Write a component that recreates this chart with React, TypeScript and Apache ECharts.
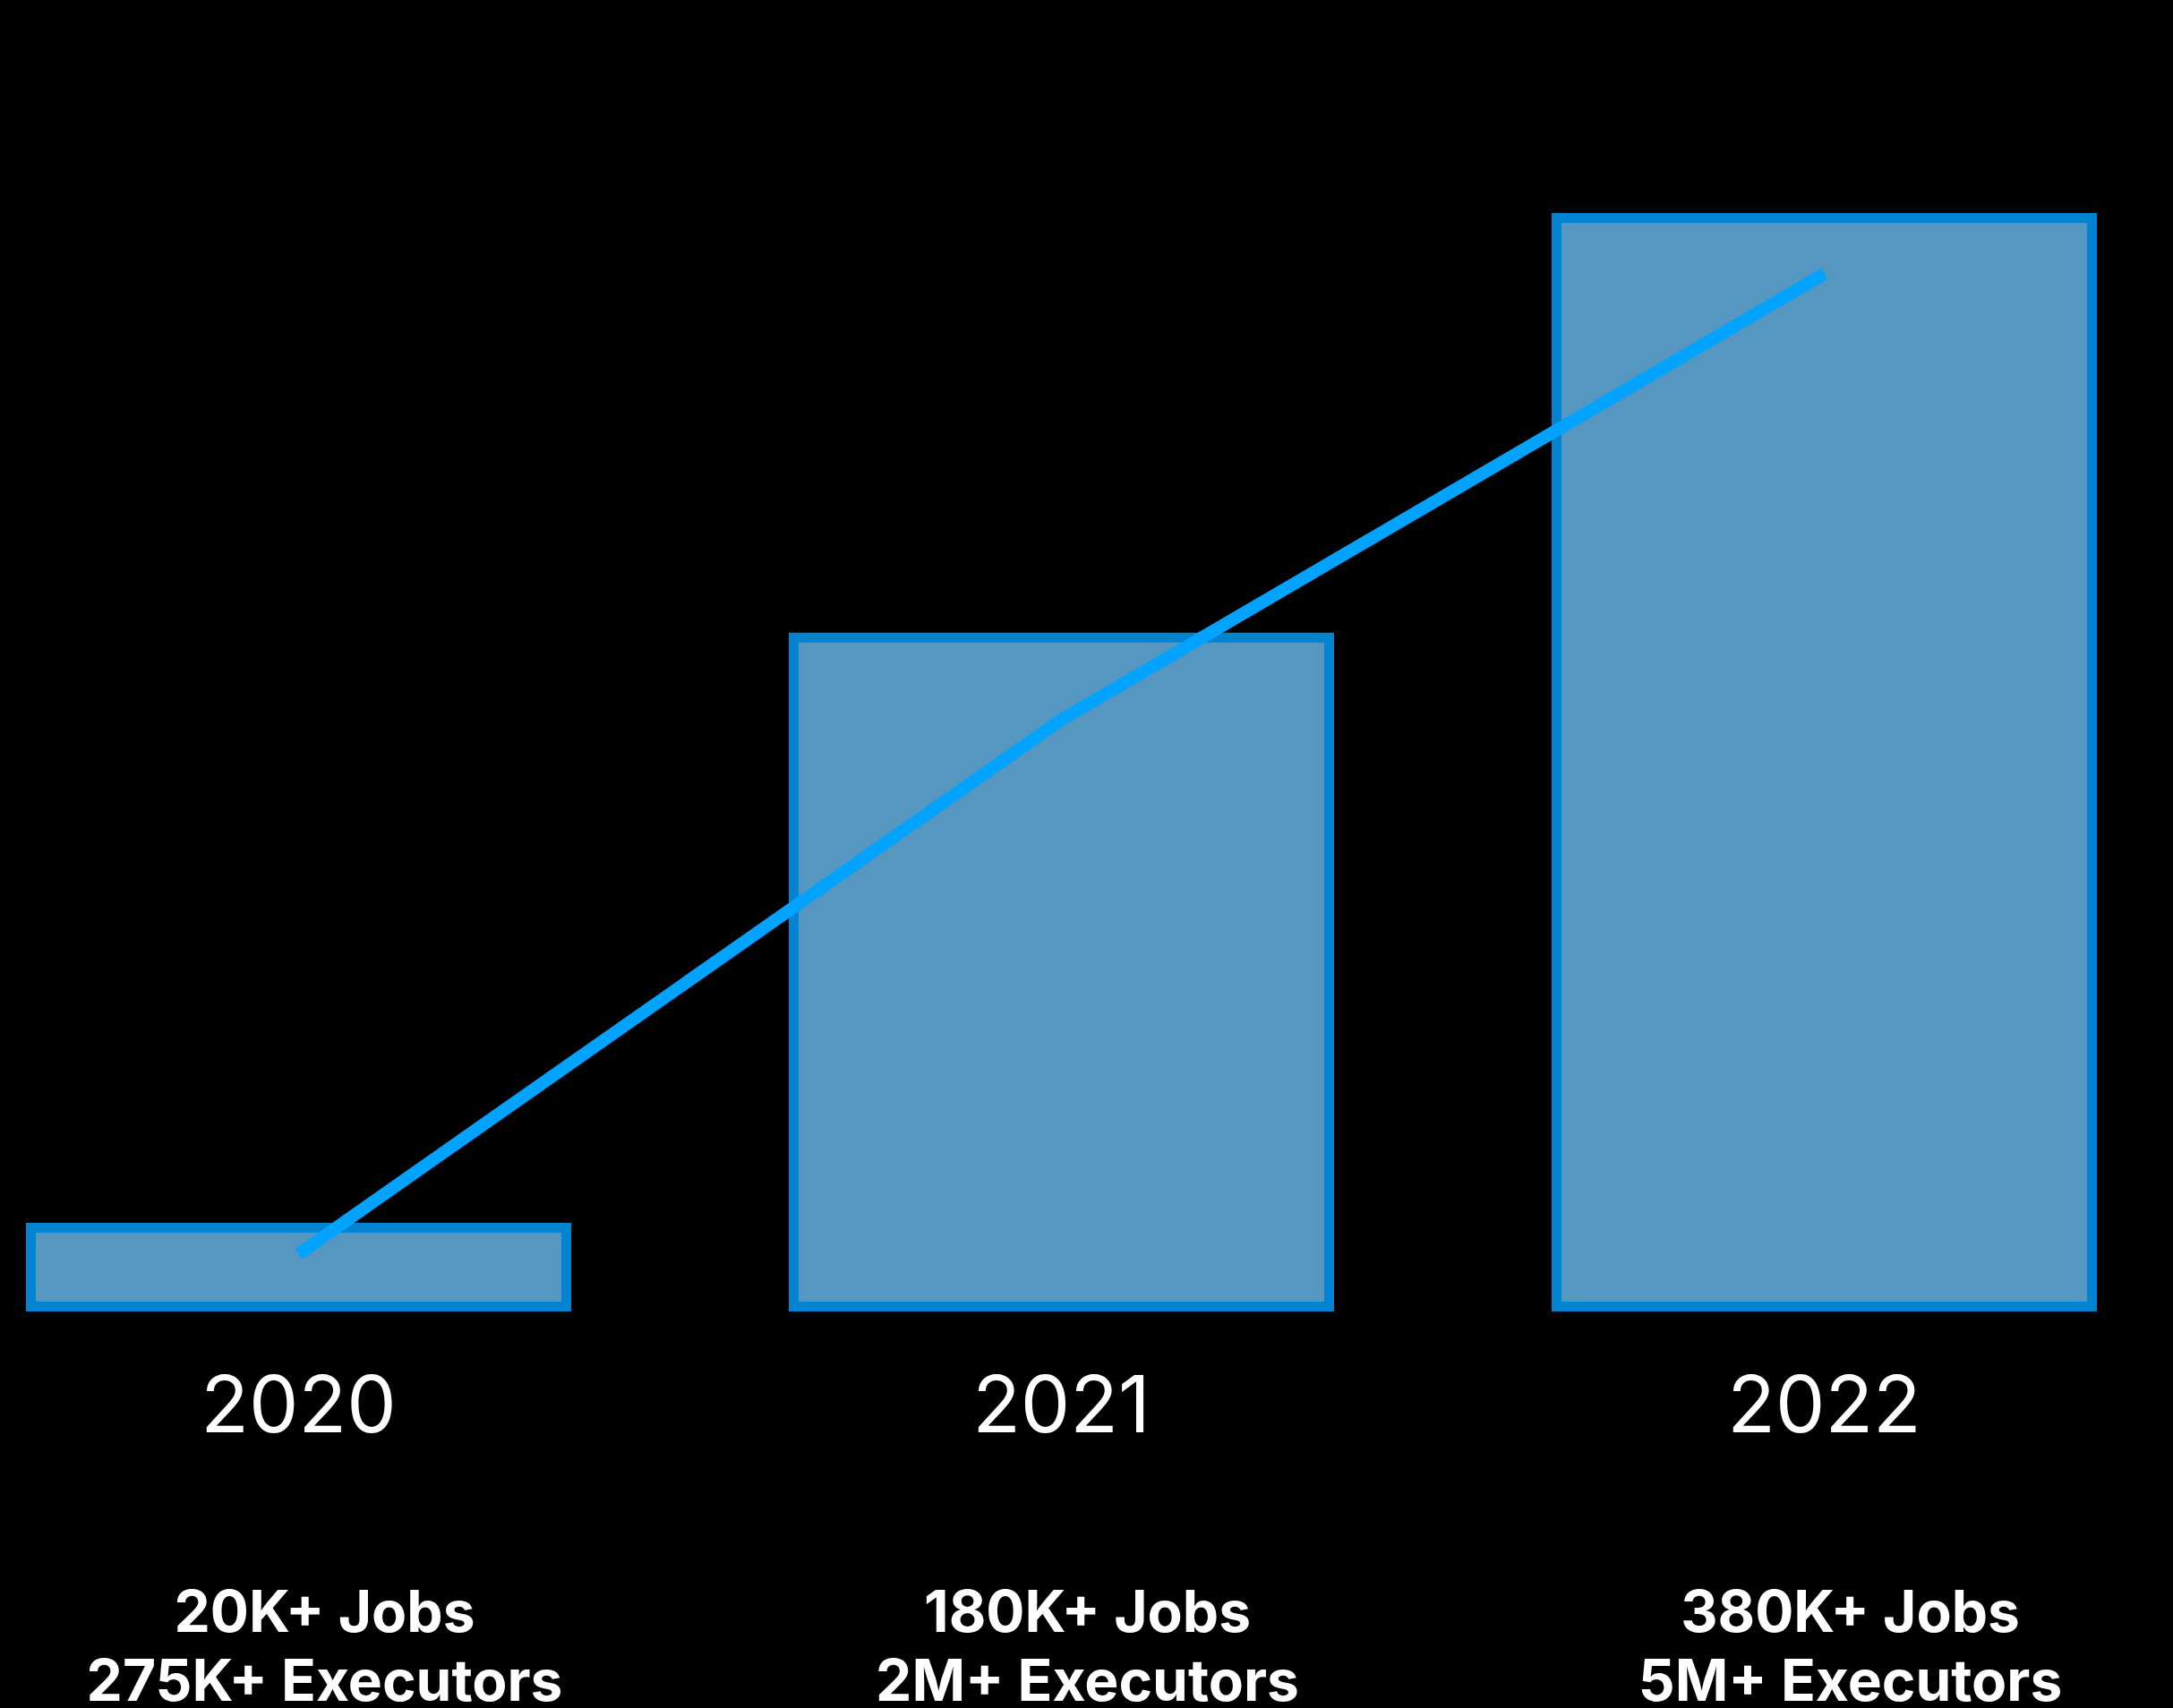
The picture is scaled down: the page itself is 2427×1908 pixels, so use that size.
import React, { useEffect, useRef } from "react";
import * as echarts from "echarts";

const years = ["2020", "2021", "2022"];
const jobsLabels = ["20K+ Jobs", "180K+ Jobs", "380K+ Jobs"];
const executorLabels = ["275K+ Executors", "2M+ Executors", "5M+ Executors"];
const barValues = [27, 207, 335];
const lineValues = [17.5, 180.5, 316.5];

export default function App() {
  const ref = useRef<HTMLDivElement>(null);
  useEffect(() => {
    document.body.style.margin = "0";
    document.body.style.background = "#000";
    const chart = echarts.init(ref.current!, undefined, { renderer: "svg" });
    const bottomLabels = years.map(
      (_, i) => "{a|" + jobsLabels[i] + "}\n{b|" + executorLabels[i] + "}"
    );
    const boldText = {
      color: "#ffffff",
      fontSize: 64,
      fontFamily: "Inter",
      fontWeight: "bold",
    };
    chart.setOption({
      animation: false,
      backgroundColor: "#000000",
      grid: {
        left: -92.5,
        right: -36.5,
        top: 0,
        bottom: 443,
        containLabel: false,
        outerBoundsMode: "none",
      },
      xAxis: [
        {
          type: "category",
          data: years,
          position: "bottom",
          axisLine: { show: false },
          axisTick: { show: false },
          splitLine: { show: false },
          axisLabel: {
            color: "#ffffff",
            fontSize: 88,
            lineHeight: 88,
            fontFamily: "Inter",
            fontWeight: 400,
            margin: 58.5,
            interval: 0,
          },
        },
        {
          type: "category",
          data: bottomLabels,
          position: "bottom",
          axisLine: { show: false },
          axisTick: { show: false },
          splitLine: { show: false },
          axisLabel: {
            color: "#ffffff",
            fontSize: 64,
            fontFamily: "Inter",
            fontWeight: "bold",
            margin: 285.5,
            interval: 0,
            padding: [0, 0, 0, 58],
            rich: {
              a: { ...boldText, lineHeight: 98 },
              b: { ...boldText, lineHeight: 56 },
            },
          },
        },
      ],
      yAxis: {
        type: "value",
        min: 0,
        max: 400,
        show: false,
        splitLine: { show: false },
      },
      series: [
        {
          type: "bar",
          data: barValues,
          xAxisIndex: 0,
          barWidth: 609,
          itemStyle: {
            color: "#5597C0",
            borderColor: "#0083D0",
            borderWidth: 11,
          },
          z: 2,
        },
        {
          type: "line",
          data: lineValues,
          xAxisIndex: 0,
          showSymbol: false,
          symbol: "none",
          lineStyle: { color: "#00A3FF", width: 14, cap: "butt" },
          z: 3,
        },
      ],
    });
    return () => chart.dispose();
  }, []);
  return (
    <div
      ref={ref}
      style={{ position: "absolute", left: 0, top: 0, width: 2427, height: 1908, background: "#000" }}
    />
  );
}
